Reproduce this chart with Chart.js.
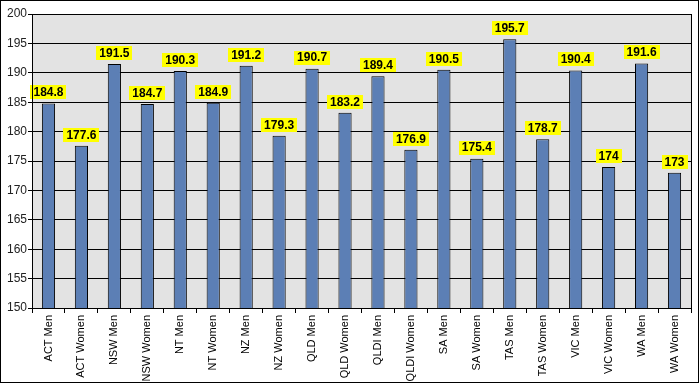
<!DOCTYPE html>
<html>
<head>
<meta charset="utf-8">
<script src="https://cdn.jsdelivr.net/npm/chart.js@4"></script>
<style>
  html, body { margin: 0; padding: 0; background: #fff; }
  #wrap { width: 700px; height: 384px; }
</style>
</head>
<body>
<div id="wrap"><canvas id="heightChart" width="700" height="384"></canvas></div>
<script>
const categories = ['ACT Men', 'ACT Women', 'NSW Men', 'NSW Women', 'NT Men', 'NT Women', 'NZ Men', 'NZ Women',
    'QLD Men', 'QLD Women', 'QLDI Men', 'QLDI Women', 'SA Men', 'SA Women', 'TAS Men', 'TAS Women',
    'VIC Men', 'VIC Women', 'WA Men', 'WA Women'];
const heights = [184.8, 177.6, 191.5, 184.7, 190.3, 184.9, 191.2, 179.3, 190.7, 183.2,
    189.4, 176.9, 190.5, 175.4, 195.7, 178.7, 190.4, 174, 191.6, 173];
const yMin = 150;
const yMax = 200;
const yStep = 5;

document.addEventListener('DOMContentLoaded', function() {
    const ctx = document.getElementById('heightChart').getContext('2d');

    // grey plot background, plot frame and outer border
    const framePlugin = {
        id: 'frame',
        beforeDraw(chart) {
            const a = chart.chartArea;
            const c = chart.ctx;
            c.save();
            c.fillStyle = '#fff';
            c.fillRect(0, 0, chart.width, chart.height);
            c.fillStyle = '#e3e3e3';
            c.fillRect(a.left, a.top, a.right - a.left, a.bottom - a.top);
            c.restore();
        },
        afterDraw(chart) {
            const a = chart.chartArea;
            const c = chart.ctx;
            c.save();
            c.strokeStyle = '#000';
            c.lineWidth = 1;
            c.strokeRect(Math.round(a.left) + 0.5, Math.round(a.top) + 0.5,
                Math.round(a.right - a.left), Math.round(a.bottom - a.top));
            c.strokeRect(0.5, 0.5, 698, 382);
            c.restore();
        }
    };

    // yellow value labels above each bar
    const valueLabels = {
        id: 'valueLabels',
        afterDatasetsDraw(chart) {
            const c = chart.ctx;
            const meta = chart.getDatasetMeta(0);
            c.save();
            c.font = 'bold 12px "Liberation Sans", Arial, sans-serif';
            c.textAlign = 'center';
            c.textBaseline = 'middle';
            meta.data.forEach((bar, i) => {
                const txt = String(heights[i]);
                const w = c.measureText(txt).width + 6;
                const h = 14;
                const x = bar.x;
                const yb = bar.y - 4;
                c.fillStyle = '#ffff00';
                c.fillRect(Math.round(x - w / 2), Math.round(yb - h), Math.round(w), h);
                c.fillStyle = '#000';
                c.fillText(txt, x, yb - h / 2 + 0.5);
            });
            c.restore();
        }
    };

    new Chart(ctx, {
        type: 'bar',
        data: {
            labels: categories,
            datasets: [{
                data: heights,
                backgroundColor: '#5c7fb5',
                borderColor: '#000',
                borderWidth: 1,
                barPercentage: 0.4,
                categoryPercentage: 1
            }]
        },
        options: {
            responsive: false,
            animation: false,
            layout: { padding: { top: 14, right: 9, left: 0, bottom: 0 } },
            plugins: {
                legend: { display: false },
                tooltip: { enabled: false }
            },
            scales: {
                x: {
                    afterFit(scale) { scale.height = 76; },
                    border: { color: '#000' },
                    grid: {
                        drawOnChartArea: false,
                        color: '#000',
                        tickLength: 5
                    },
                    ticks: {
                        color: '#000',
                        minRotation: 90,
                        maxRotation: 90,
                        padding: 2,
                        font: { family: '"Liberation Sans", Arial, sans-serif', size: 11 }
                    }
                },
                y: {
                    min: yMin,
                    max: yMax,
                    afterFit(scale) { scale.width = 32; },
                    border: { color: '#000' },
                    grid: {
                        color: '#000',
                        tickLength: 4
                    },
                    ticks: {
                        stepSize: yStep,
                        color: '#222',
                        padding: 1,
                        font: { family: '"Liberation Sans", Arial, sans-serif', size: 12 }
                    }
                }
            }
        },
        plugins: [framePlugin, valueLabels]
    });
});
</script>
</body>
</html>
